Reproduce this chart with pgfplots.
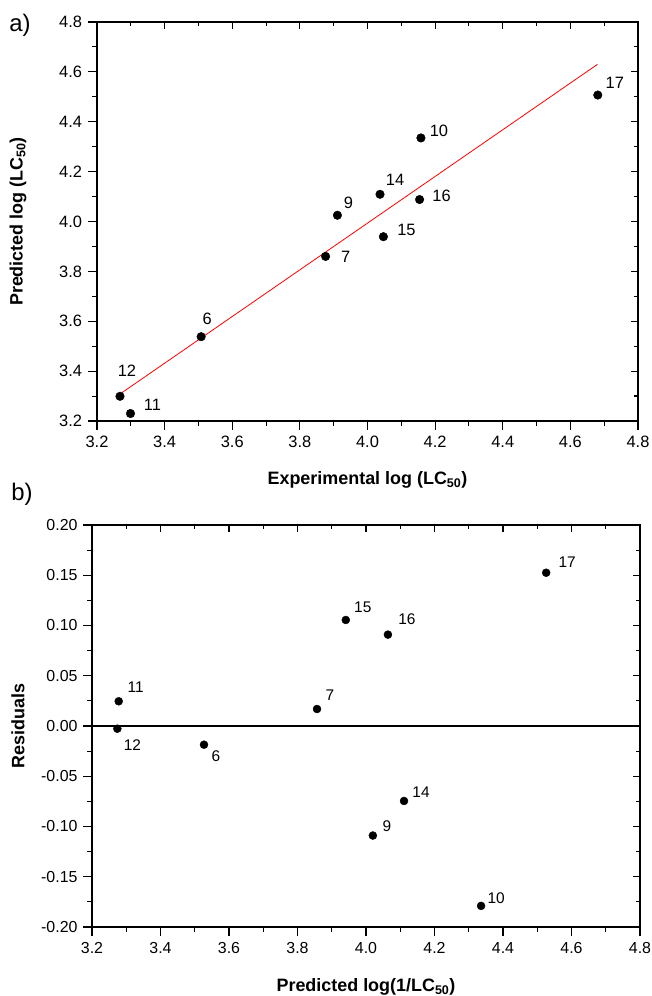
\documentclass[border=0pt]{standalone}
\usepackage{pgfplots}
\pgfplotsset{compat=1.18}
\usepackage{pgfplotstable}
\usepackage{fontspec}
\setmainfont{Liberation Sans}

\pgfplotstableread{
x y lbl dx dy
3.268 3.299 12 7 26
3.299 3.230 11 22 9
3.508 3.538 6 6 18
3.876 3.860 7 20 0
3.911 4.025 9 11 12
4.037 4.109 14 15 14
4.047 3.939 15 23 7
4.158 4.335 10 18 7
4.154 4.088 16 22 4
4.681 4.507 17 17 12
}\topdata

\pgfplotstableread{
x y lbl dx dy
3.278 0.0246 11 17 14
3.274 -0.0027 12 15 -16
3.527 -0.0186 6 12 -11
3.857 0.0169 7 13 14
3.941 0.1055 15 17 13
4.064 0.0909 16 19 15
4.526 0.1525 17 21 11
4.111 -0.0746 14 17 9
4.020 -0.1090 9 14 9
4.336 -0.1790 10 15 8
}\botdata

\pgfplotsset{
  base/.style={
    scale only axis,
    axis line style={line width=1.4bp, black},
    tick style={line width=1.1bp, black},
    minor x tick num=1,
    xmin=3.2, xmax=4.8,
    xtick={3.2,3.4,...,4.81},
    /pgf/number format/assume math mode=true,
    tick label style={font=\fontsize{16.5}{18}\selectfont},
    label style={font=\bfseries\fontsize{18}{20}\selectfont},
  },
  outer/.style={base,
    tick align=outside,
    major tick length=9bp, minor tick length=5bp,
    xtick pos=left, ytick pos=left,
    xticklabel style={yshift=-3bp, /pgf/number format/.cd, fixed, fixed zerofill, precision=1},
  },
  inner/.style={base,
    tick align=inside,
    major tick length=7bp, minor tick length=4bp,
    xtick pos=right, ytick pos=right,
    xticklabels={}, yticklabels={},
  },
  dots/.style={only marks, mark=*, mark size=4.3bp, black,
    point meta=explicit symbolic,
    nodes near coords,
    visualization depends on={\thisrow{dx} \as \ldx},
    visualization depends on={\thisrow{dy} \as \ldy},
    every node near coord/.append style={anchor=center, xshift=\ldx bp, yshift=\ldy bp, inner sep=0pt},
  },
}

\begin{document}
\begin{tikzpicture}[x=1bp,y=1bp]
\useasboundingbox (0,0) rectangle (652,996);

\node[font=\fontsize{24}{26}\selectfont] at (20,971) {a)};
\node[font=\fontsize{24}{26}\selectfont] at (22,502) {b)};

% ---- top panel ----
\begin{axis}[outer,
  at={(97bp,575bp)}, anchor=south west,
  width=541bp, height=399bp,
  ymin=3.2, ymax=4.8, ytick={3.2,3.4,...,4.81}, minor y tick num=1,
  yticklabel style={xshift=-2.5bp, /pgf/number format/.cd, fixed, fixed zerofill, precision=1},
  xlabel={Experimental log (LC\textsubscript{50})},
  ylabel={Predicted log (LC\textsubscript{50})},
  xlabel style={at={(axis description cs:0.5,0)}, anchor=center, yshift=-59bp},
  ylabel style={at={(axis description cs:0,0.5)}, anchor=center, yshift=79bp},
]
\addplot[red, line width=0.8bp] coordinates {(3.27,3.31) (4.68,4.63)};
\addplot[dots, every node near coord/.append style={font=\fontsize{16.5}{18}\selectfont}] table[x=x, y=y, meta=lbl] {\topdata};
\end{axis}
\begin{axis}[inner,
  at={(97bp,575bp)}, anchor=south west,
  width=541bp, height=399bp,
  ymin=3.2, ymax=4.8, ytick={3.2,3.4,...,4.81}, minor y tick num=1,
]
\end{axis}

% ---- bottom panel ----
\begin{axis}[outer,
  at={(92bp,69bp)}, anchor=south west,
  width=548bp, height=402bp,
  ymin=-0.2, ymax=0.2, ytick={-0.2,-0.15,...,0.21}, minor y tick num=1,
  yticklabel style={xshift=-2bp, /pgf/number format/.cd, fixed, fixed zerofill, precision=2},
  tick label style={font=\fontsize{16}{18}\selectfont},
  xlabel={Predicted log(1/LC\textsubscript{50})},
  ylabel={Residuals},
  xlabel style={at={(axis description cs:0.5,0)}, anchor=center, yshift=-60bp},
  ylabel style={at={(axis description cs:0,0.5)}, anchor=center, yshift=74bp},
]
\addplot[black, line width=1.4bp] coordinates {(3.2,0) (4.8,0)};
\addplot[dots, mark size=4bp, every node near coord/.append style={font=\fontsize{15.5}{17}\selectfont}] table[x=x, y=y, meta=lbl] {\botdata};
\end{axis}
\begin{axis}[inner,
  at={(92bp,69bp)}, anchor=south west,
  width=548bp, height=402bp,
  ymin=-0.2, ymax=0.2, ytick={-0.2,-0.15,...,0.21}, minor y tick num=1,
]
\end{axis}
\end{tikzpicture}
\end{document}
